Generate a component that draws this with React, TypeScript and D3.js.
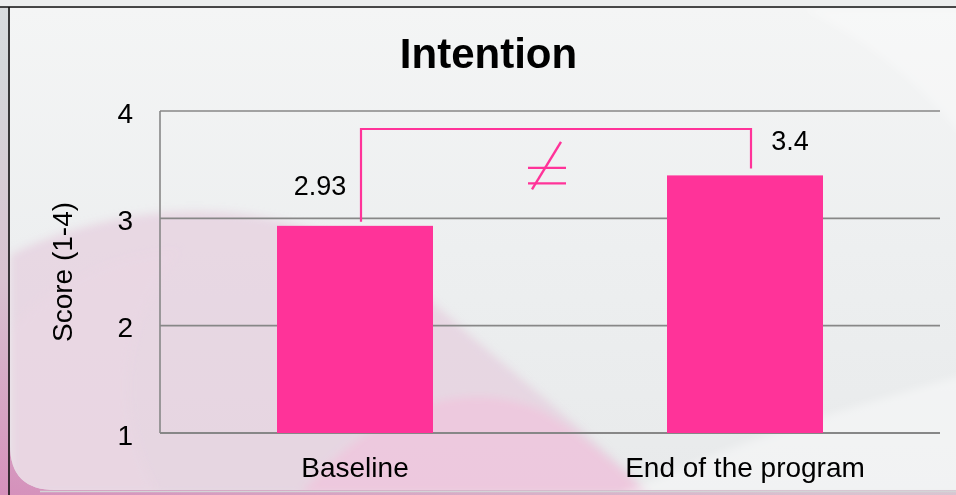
import React from "react";
import * as d3 from "d3";

// Chart values
const categories: string[] = ["Baseline", "End of the program"];
const scores: number[] = [2.93, 3.4];
const valueLabels: string[] = ["2.93", "3.4"];
const yTicks: number[] = [1, 2, 3, 4];
const yDomain: [number, number] = [1, 4];
const chartTitle = "Intention";
const yAxisTitle = "Score (1-4)";
const significanceMark = "≠";

const W = 956;
const H = 495;
const plot = { left: 160, right: 940, top: 111, bottom: 433 };
const PINK = "#ff3399";
const GRID = "#878787";
const FONT = "'Liberation Sans', Arial, sans-serif";

// per-label offsets of the value labels from their bar (dx from center, dy from top)
const labelOffsets = [
  { dx: -35, dy: -31 },
  { dx: 45, dy: -25 },
];

// panel with only its bottom-left corner rounded
const panelPath = "M10,8 L980,8 L980,490 L55,490 Q10,490 10,445 Z";

export default function App() {
  const x = d3
    .scaleBand<string>()
    .domain(categories)
    .range([plot.left, plot.right])
    .paddingInner(0.6)
    .paddingOuter(0.3);
  const y = d3.scaleLinear().domain(yDomain).range([plot.bottom, plot.top]);

  const centers = categories.map((c) => (x(c) as number) + x.bandwidth() / 2);

  // bracket joining the two bars
  const bracketY = y(yDomain[1]) + 18;
  const bx0 = centers[0] + 6;
  const bx1 = centers[1] + 6;
  const bracketPath = d3.path();
  bracketPath.moveTo(bx0, y(scores[0]) - 4);
  bracketPath.lineTo(bx0, bracketY);
  bracketPath.lineTo(bx1, bracketY);
  bracketPath.lineTo(bx1, y(scores[1]) - 7);

  // "not equal" sign centred between the bars
  const nx = (centers[0] + centers[1]) / 2 - 3;
  const ny = y(scores[1]);

  return (
    <svg
      width={W}
      height={H}
      style={{ position: "absolute", left: 0, top: 0, display: "block" }}
      fontFamily={FONT}
    >
      <defs>
        <linearGradient id="outer" x1="0" y1="1" x2="0.5" y2="0">
          <stop offset="0" stopColor="#d590bb" />
          <stop offset="0.35" stopColor="#d8c2d0" />
          <stop offset="0.7" stopColor="#d4d8da" />
          <stop offset="1" stopColor="#e4e6e7" />
        </linearGradient>
        <linearGradient id="inner" x1="0" y1="0" x2="0" y2="1">
          <stop offset="0" stopColor="#f4f5f5" />
          <stop offset="0.5" stopColor="#edeff0" />
          <stop offset="1" stopColor="#e8eaeb" />
        </linearGradient>
        <filter id="soft" x="-10%" y="-10%" width="120%" height="120%">
          <feGaussianBlur stdDeviation="4" />
        </filter>
        <clipPath id="innerClip">
          <path d={panelPath} />
        </clipPath>
      </defs>

      {/* backdrop */}
      <rect x={0} y={0} width={W} height={H} fill="url(#outer)" />
      <rect x={0} y={0} width={W} height={7} fill="#eceeee" />
      <path d={panelPath} fill="url(#inner)" />
      <g clipPath="url(#innerClip)">
        <g filter="url(#soft)">
          <path
            d="M10,255 C120,200 300,180 430,300 C520,380 600,440 650,495 L10,495 Z"
            fill="#e4c8da"
            opacity={0.6}
          />
          <path
            d="M10,330 C60,280 110,255 180,250 C120,320 110,420 160,495 L10,495 Z"
            fill="#ecd6e4"
            opacity={0.5}
          />
          <path
            d="M300,495 C380,400 470,380 540,410 C590,440 620,470 650,495 Z"
            fill="#f3bedb"
            opacity={0.55}
          />
          <path
            d="M620,495 C760,430 880,400 980,370 L980,495 Z"
            fill="#ffffff"
            opacity={0.4}
          />
          <path
            d="M800,8 C870,40 930,90 980,160 L980,8 Z"
            fill="#ffffff"
            opacity={0.3}
          />
        </g>
      </g>
      <line x1={0} x2={W} y1={7} y2={7} stroke="#111" strokeWidth={1.6} />
      <line x1={9} x2={9} y1={7} y2={H} stroke="#111" strokeWidth={1.6} />
      <line x1={40} x2={W} y1={491.5} y2={491.5} stroke="#d4d4d6" strokeWidth={1.5} />

      {/* title */}
      <text x={488.5} y={68} textAnchor="middle" fontSize={42} fontWeight="bold" fill="#000">
        {chartTitle}
      </text>

      {/* gridlines */}
      {yTicks.map((t) => (
        <line
          key={t}
          x1={plot.left}
          x2={plot.right}
          y1={y(t)}
          y2={y(t)}
          stroke={GRID}
          strokeWidth={t === yDomain[0] ? 2 : 1.6}
        />
      ))}
      <line
        x1={plot.left}
        x2={plot.left}
        y1={y(yDomain[1])}
        y2={y(yDomain[0])}
        stroke={GRID}
        strokeWidth={1.6}
      />

      {/* y tick labels */}
      {yTicks.map((t) => (
        <text
          key={t}
          x={133}
          y={y(t) + 2}
          dy="0.35em"
          textAnchor="end"
          fontSize={28}
          fill="#000"
        >
          {t}
        </text>
      ))}

      {/* y axis title */}
      <text
        transform={`translate(71.5,${(plot.top + plot.bottom) / 2}) rotate(-90)`}
        textAnchor="middle"
        fontSize={28}
        fill="#000"
      >
        {yAxisTitle}
      </text>

      {/* bars */}
      {categories.map((c, i) => (
        <rect
          key={c}
          x={x(c)}
          y={y(scores[i])}
          width={x.bandwidth()}
          height={y(yDomain[0]) - y(scores[i])}
          fill={PINK}
        />
      ))}

      {/* value labels */}
      {categories.map((c, i) => (
        <text
          key={c}
          x={centers[i] + labelOffsets[i].dx}
          y={y(scores[i]) + labelOffsets[i].dy}
          textAnchor="middle"
          fontSize={27}
          fill="#000"
        >
          {valueLabels[i]}
        </text>
      ))}

      {/* category labels */}
      {categories.map((c, i) => (
        <text key={c} x={centers[i]} y={477} textAnchor="middle" fontSize={28} fill="#000">
          {c}
        </text>
      ))}

      {/* significance bracket */}
      <path d={bracketPath.toString()} fill="none" stroke={PINK} strokeWidth={2.2} />
      <g stroke={PINK} strokeWidth={2.4} aria-label={significanceMark}>
        <line x1={nx - 19} x2={nx + 19} y1={ny - 7.5} y2={ny - 7.5} />
        <line x1={nx - 19} x2={nx + 19} y1={ny + 8} y2={ny + 8} />
        <line x1={nx + 14} x2={nx - 15} y1={ny - 33.5} y2={ny + 14} />
      </g>
    </svg>
  );
}
